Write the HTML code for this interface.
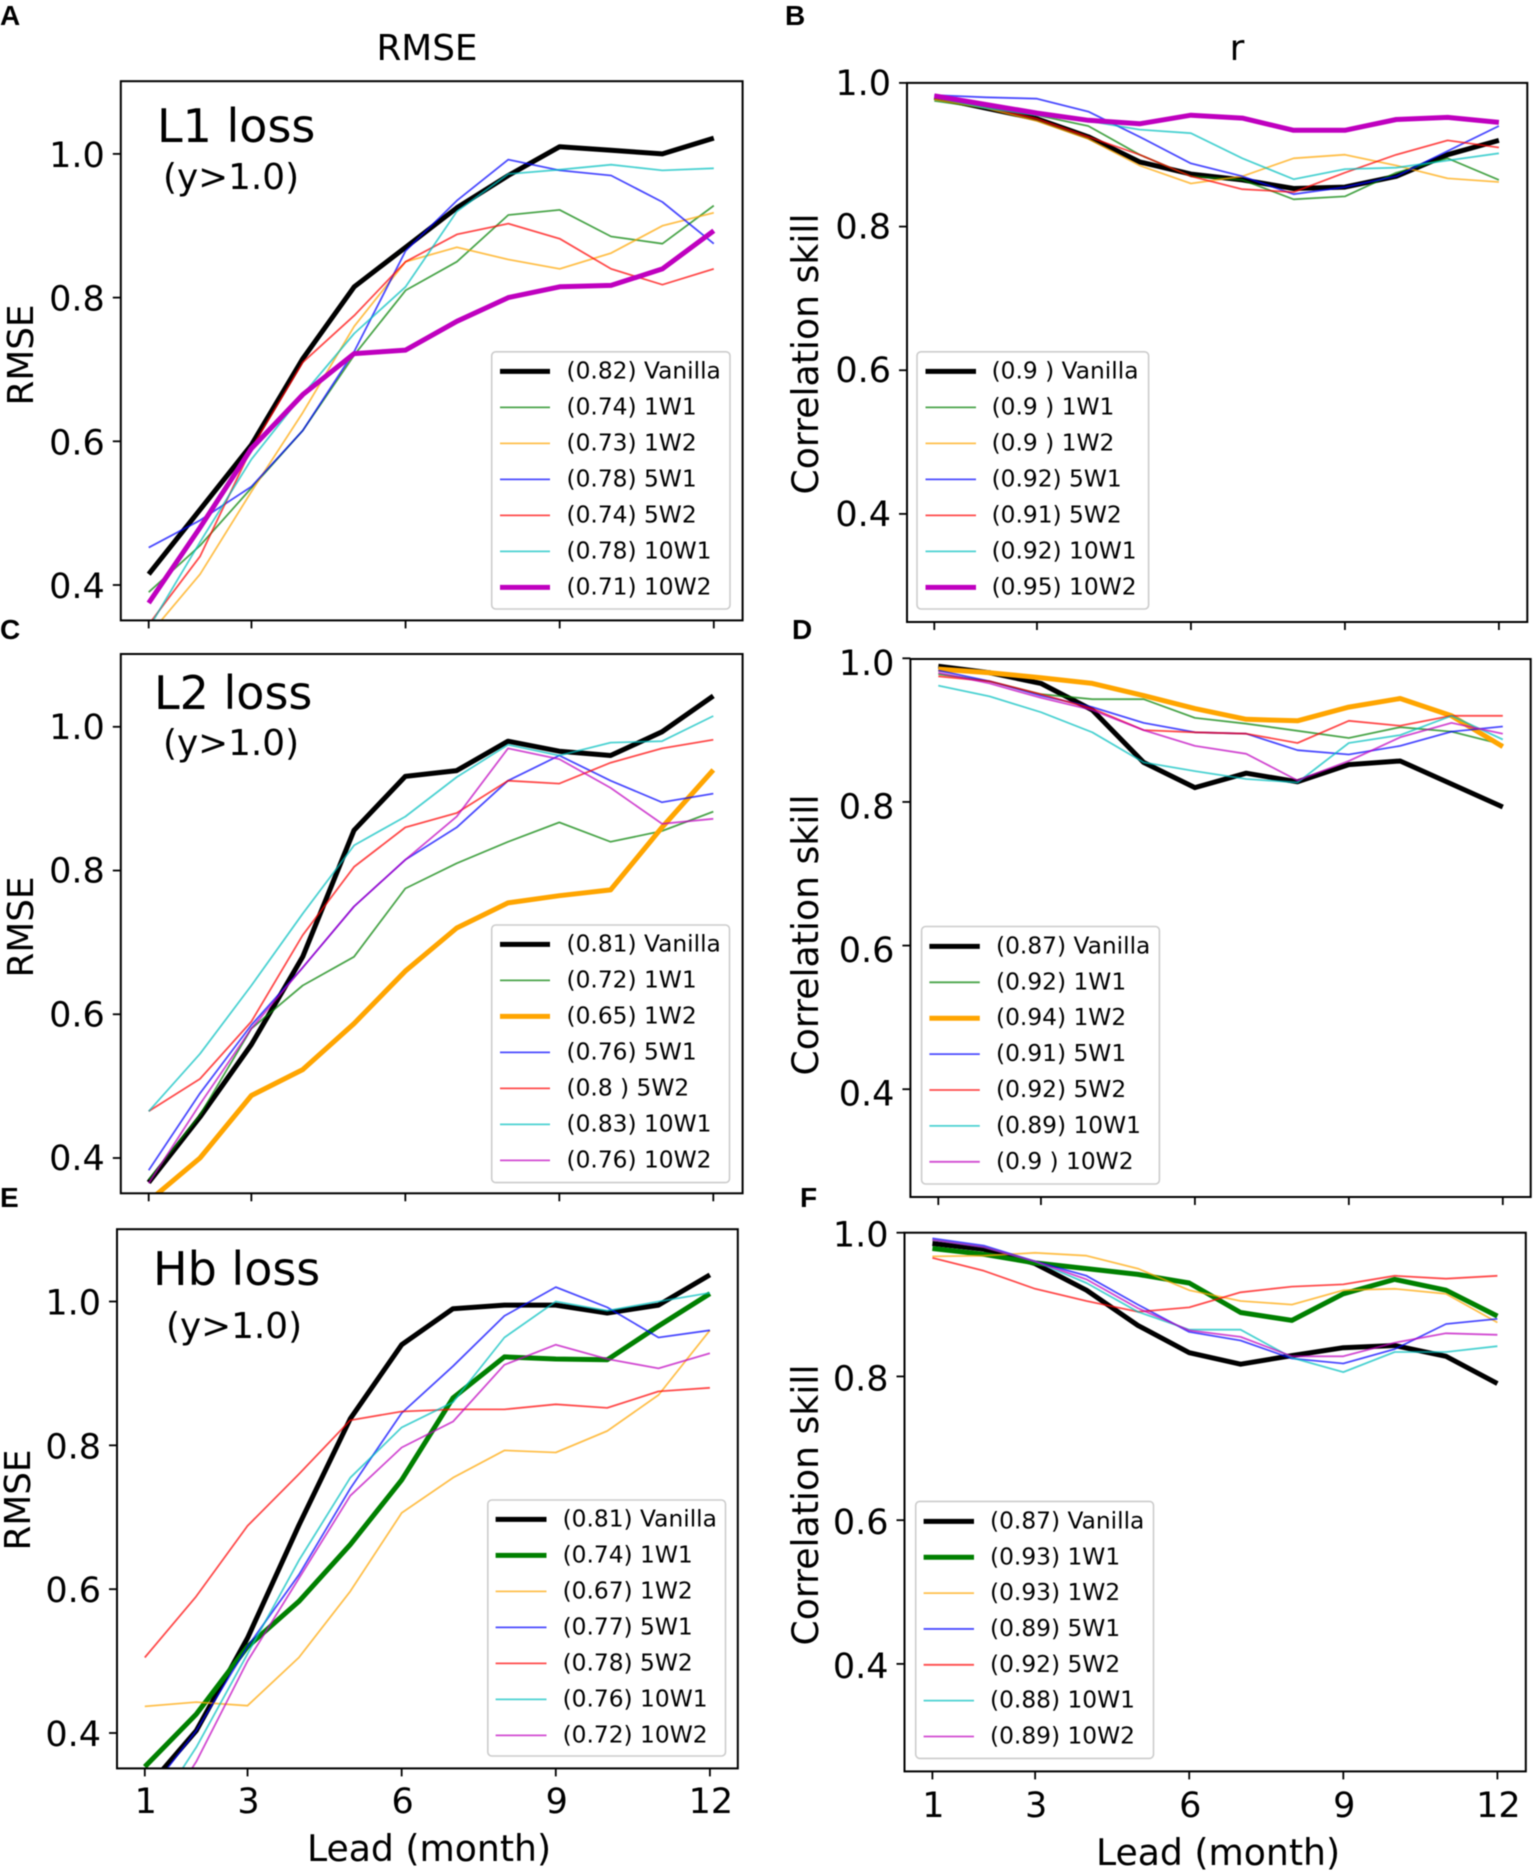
<!DOCTYPE html>
<html lang="en">
<head>
<meta charset="utf-8">
<title>RMSE and correlation skill by lead month</title>
<style>
html,body{margin:0;padding:0;background:#fff;}
#figure{display:block;width:1536px;height:1873px;filter:blur(0.5px);}
text{font-family:"DejaVu Sans","Liberation Sans",sans-serif;fill:#000;}
.letter{font-family:"Liberation Sans",sans-serif;font-weight:bold;font-size:28px;}
.coltitle{font-size:35.8px;text-anchor:middle;}
.ann{font-size:46px;}
.sub{font-size:35.8px;}
.ylab{font-size:35.8px;text-anchor:middle;}
.ylab2{font-size:36.2px;text-anchor:middle;}
.xlab{font-size:36.2px;text-anchor:middle;}
.tick{font-size:35px;}
.leg{font-size:23.3px;}
</style>
</head>
<body>
<svg id="figure" xmlns="http://www.w3.org/2000/svg" width="1536" height="1873" viewBox="0 0 1536 1873">
  <rect width="1536" height="1873" fill="#fff"/>
  <text class="letter" x="0" y="25">A</text>
  <text class="letter" x="785" y="25">B</text>
  <text class="letter" x="0" y="639">C</text>
  <text class="letter" x="792" y="639">D</text>
  <text class="letter" x="0" y="1207">E</text>
  <text class="letter" x="800" y="1207">F</text>
  <text class="coltitle" x="427" y="60">RMSE</text>
  <text class="coltitle" x="1237" y="60">r</text>
  <g id="panels"></g>
  <text class="ann" x="157" y="142">L1 loss</text>
  <text class="sub" x="163" y="189">(y&gt;1.0)</text>
  <text class="ann" x="154" y="709">L2 loss</text>
  <text class="sub" x="163" y="755">(y&gt;1.0)</text>
  <text class="ann" x="153" y="1285">Hb loss</text>
  <text class="sub" x="166" y="1338">(y&gt;1.0)</text>
  <text class="ylab" transform="translate(33,355) rotate(-90)">RMSE</text>
  <text class="ylab" transform="translate(33,927) rotate(-90)">RMSE</text>
  <text class="ylab" transform="translate(30,1500) rotate(-90)">RMSE</text>
  <text class="ylab2" transform="translate(818,354) rotate(-90)">Correlation skill</text>
  <text class="ylab2" transform="translate(818,935) rotate(-90)">Correlation skill</text>
  <text class="ylab2" transform="translate(818,1505) rotate(-90)">Correlation skill</text>
  <text class="xlab" x="429" y="1861">Lead (month)</text>
  <text class="xlab" x="1218" y="1865">Lead (month)</text>
</svg>
<script>
const leadMonths = [1,2,3,4,5,6,7,8,9,10,11,12];
const xTickValues = [1,3,6,9,12];
const yTickValues = [1.0,0.8,0.6,0.4];
const seriesNames = ["Vanilla","1W1","1W2","5W1","5W2","10W1","10W2"];
const seriesColors = ["#000000","#008000","#ffa500","#0000ff","#ff0000","#00bfbf","#bf00bf"];

// Panel A: L1 loss RMSE
const a_vanilla = [.415,.505,.595,.715,.815,.87,.925,.97,1.01,1.005,1.0,1.022];
const a_1w1 = [.39,.455,.535,.615,.72,.81,.85,.915,.922,.885,.875,.928];
const a_1w2 = [.33,.415,.53,.64,.76,.85,.87,.853,.84,.862,.9,.918];
const a_5w1 = [.452,.49,.537,.615,.725,.865,.935,.992,.977,.97,.933,.875];
const a_5w2 = [.345,.44,.59,.71,.775,.85,.888,.903,.882,.84,.818,.84];
const a_10w1 = [.34,.46,.575,.665,.75,.815,.92,.972,.978,.985,.977,.98];
const a_10w2 = [.375,.48,.59,.665,.722,.727,.767,.8,.815,.817,.84,.893];
const a_scores = ["0.82","0.74","0.73","0.78","0.74","0.78","0.71"];

// Panel B: L1 loss correlation
const b_vanilla = [.98,.965,.95,.925,.89,.873,.865,.853,.855,.87,.9,.92];
const b_1w1 = [.975,.965,.955,.94,.9,.87,.865,.838,.842,.875,.895,.865];
const b_1w2 = [.977,.965,.947,.922,.885,.86,.87,.895,.9,.885,.867,.862];
const b_5w1 = [.983,.98,.978,.96,.925,.888,.87,.845,.855,.87,.905,.94];
const b_5w2 = [.98,.967,.95,.925,.9,.87,.852,.848,.875,.9,.92,.91];
const b_10w1 = [.98,.965,.955,.947,.935,.93,.895,.866,.88,.882,.892,.902];
const b_10w2 = [.982,.97,.958,.948,.943,.955,.951,.934,.934,.949,.952,.945];
const b_scores = ["0.9 ","0.9 ","0.9 ","0.92","0.91","0.92","0.95"];

// Panel C: L2 loss RMSE
const c_vanilla = [.366,.457,.558,.68,.856,.931,.939,.98,.966,.96,.993,1.043];
const c_1w1 = [.37,.46,.58,.64,.68,.775,.81,.84,.867,.84,.855,.882];
const c_1w2 = [.34,.4,.487,.523,.587,.66,.72,.755,.765,.773,.86,.94];
const c_5w1 = [.383,.49,.585,.665,.75,.815,.86,.925,.96,.925,.895,.907];
const c_5w2 = [.465,.51,.59,.71,.805,.86,.88,.925,.921,.95,.97,.982];
const c_10w1 = [.465,.545,.64,.74,.835,.875,.93,.975,.96,.978,.98,1.015];
const c_10w2 = [.365,.475,.58,.665,.75,.815,.875,.97,.955,.915,.865,.872];
const c_scores = ["0.81","0.72","0.65","0.76","0.8 ","0.83","0.76"];

// Panel D: L2 loss correlation
const d_vanilla = [.989,.98,.965,.928,.855,.82,.84,.828,.852,.857,.825,.793];
const d_1w1 = [.978,.968,.95,.943,.943,.917,.909,.899,.889,.904,.898,.88];
const d_1w2 = [.985,.98,.973,.965,.948,.93,.915,.913,.932,.944,.92,.877];
const d_5w1 = [.983,.968,.948,.932,.91,.897,.895,.872,.866,.878,.898,.905];
const d_5w2 = [.975,.968,.95,.93,.9,.897,.895,.882,.913,.906,.92,.92];
const d_10w1 = [.962,.947,.925,.897,.855,.843,.832,.827,.882,.893,.92,.887];
const d_10w2 = [.98,.965,.945,.928,.9,.878,.867,.83,.857,.89,.91,.895];
const d_scores = ["0.87","0.92","0.94","0.91","0.92","0.89","0.9 "];

// Panel E: Hb loss RMSE
const e_vanilla = [.32,.403,.532,.689,.837,.94,.99,.995,.995,.984,.995,1.037];
const e_1w1 = [.353,.426,.52,.583,.662,.752,.866,.923,.92,.919,.966,1.011];
const e_1w2 = [.437,.443,.438,.505,.597,.706,.755,.793,.79,.82,.87,.96];
const e_5w1 = [.31,.403,.52,.62,.74,.845,.91,.98,1.02,.992,.95,.96];
const e_5w2 = [.505,.59,.688,.76,.835,.847,.85,.85,.857,.852,.875,.88];
const e_10w1 = [.27,.38,.51,.64,.755,.825,.86,.95,1.0,.987,1.0,1.012];
const e_10w2 = [.25,.36,.5,.615,.73,.797,.833,.912,.94,.92,.907,.928];
const e_scores = ["0.81","0.74","0.67","0.77","0.78","0.76","0.72"];

// Panel F: Hb loss correlation
const f_vanilla = [.985,.977,.957,.92,.871,.833,.817,.829,.84,.843,.828,.79];
const f_1w1 = [.978,.97,.958,.95,.942,.93,.889,.878,.915,.935,.92,.884];
const f_1w2 = [.967,.968,.972,.968,.95,.92,.905,.9,.92,.922,.915,.875];
const f_5w1 = [.992,.982,.96,.94,.9,.862,.85,.825,.818,.838,.873,.88];
const f_5w2 = [.965,.947,.922,.905,.89,.896,.917,.925,.928,.94,.936,.94];
const f_10w1 = [.99,.98,.96,.93,.89,.865,.865,.826,.806,.834,.834,.842];
const f_10w2 = [.99,.98,.96,.935,.895,.864,.855,.828,.828,.847,.86,.858];
const f_scores = ["0.87","0.93","0.93","0.89","0.92","0.88","0.89"];

const panels = [
  {id:"a", series:[a_vanilla,a_1w1,a_1w2,a_5w1,a_5w2,a_10w1,a_10w2], scores:a_scores, bold:[0,6], tickShift:13,
   box:[120.8,742.6,81.2,620.4], xr:[148.7,713.8], yr:[153.9,585], lg:[491.7,730,351.8,609,500,550,566.5,370.4,36], xl:false},
  {id:"b", series:[b_vanilla,b_1w1,b_1w2,b_5w1,b_5w2,b_10w1,b_10w2], scores:b_scores, bold:[0,6], tickShift:12,
   box:[907,1527.3,82.9,622], xr:[934.3,1498.9], yr:[82.9,513.9], lg:[917,1148.6,351.8,609,925.5,976,991.6,370.4,36], xl:false},
  {id:"c", series:[c_vanilla,c_1w1,c_1w2,c_5w1,c_5w2,c_10w1,c_10w2], scores:c_scores, bold:[0,2], tickShift:12,
   box:[120.8,742.6,654,1193.3], xr:[148.7,713.3], yr:[726.8,1158], lg:[491.7,729.5,925,1182.6,500,550,566.5,943.4,36], xl:false},
  {id:"d", series:[d_vanilla,d_1w1,d_1w2,d_5w1,d_5w2,d_10w1,d_10w2], scores:d_scores, bold:[0,2], tickShift:16.5,
   box:[910.4,1530.7,659,1197], xr:[938.3,1502.8], yr:[658.3,1089.2], lg:[921.6,1159.4,926.5,1184,929.4,979.8,996,945.4,35.9], xl:false},
  {id:"e", series:[e_vanilla,e_1w1,e_1w2,e_5w1,e_5w2,e_10w1,e_10w2], scores:e_scores, bold:[0,1], tickShift:13,
   box:[117,737.8,1229.2,1768.4], xr:[144.8,709.9], yr:[1301.5,1733], lg:[487.8,725.5,1500,1756,495.6,546.5,562.6,1518.4,36], xl:1813},
  {id:"f", series:[f_vanilla,f_1w1,f_1w2,f_5w1,f_5w2,f_10w1,f_10w2], scores:f_scores, bold:[0,1], tickShift:14,
   box:[904.5,1525.8,1232.7,1771.4], xr:[932.4,1497.4], yr:[1232.7,1663.9], lg:[915.7,1153.5,1501.4,1758.4,923.6,974,990,1520.4,35.85], xl:1817}
];

const SVGNS = "http://www.w3.org/2000/svg";
const root = document.getElementById("panels");
function mk(tag, attrs, parent){
  const el = document.createElementNS(SVGNS, tag);
  for (const k in attrs) el.setAttribute(k, attrs[k]);
  parent.appendChild(el);
  return el;
}
function slug(s){ return s.toLowerCase(); }

panels.forEach(function(p){
  const [L,R,T,B] = p.box;
  const xScale = function(m){ return p.xr[0] + (m - 1) * (p.xr[1] - p.xr[0]) / 11; };
  const yScale = function(v){ return p.yr[0] + (1 - v) * (p.yr[1] - p.yr[0]) / 0.6; };

  const g = mk("g", {}, root);
  
  

  const defs = mk("defs", {}, g);
  const clip = mk("clipPath", {id:"clip-" + p.id}, defs);
  mk("rect", {x:L, y:T, width:R - L, height:B - T}, clip);

  const plot = mk("g", {"clip-path":"url(#clip-" + p.id + ")"}, g);
  
  

  p.series.forEach(function(vals, i){
    const thick = p.bold.indexOf(i) >= 0;
    const pts = vals.map(function(v, j){ return xScale(leadMonths[j]).toFixed(1) + "," + yScale(v).toFixed(1); }).join(" ");
    const line = mk("polyline", {points:pts, fill:"none", stroke:seriesColors[i],
      "stroke-width":thick ? 5 : 1.8, "stroke-opacity":thick ? 1 : 0.7,
      "stroke-linejoin":"round"}, plot);
    
    
  });

  const frame = mk("rect", {x:L, y:T, width:R - L, height:B - T, fill:"none", stroke:"#000", "stroke-width":2}, g);
  
  

  xTickValues.forEach(function(m){
    const tx = xScale(m);
    const t = mk("line", {x1:tx, x2:tx, y1:B, y2:B + 8, stroke:"#000", "stroke-width":1.8}, g);
    
    
    if (p.xl) {
      const lbl = mk("text", {x:tx + 1, y:p.xl, "text-anchor":"middle", class:"tick"}, g);
      lbl.textContent = String(m);
      
      
    }
  });

  yTickValues.forEach(function(v){
    const ty = yScale(v);
    const t = mk("line", {x1:L - 8, x2:L, y1:ty, y2:ty, stroke:"#000", "stroke-width":1.8}, g);
    
    
    const lbl = mk("text", {x:L - 16, y:ty + p.tickShift, "text-anchor":"end", class:"tick"}, g);
    lbl.textContent = v.toFixed(1);
    
    
  });

  const [lgL,lgR,lgT,lgB,lnA,lnB,txX,rowY,rowStep] = p.lg;
  const legend = mk("g", {}, g);
  
  
  const lgBox = mk("rect", {x:lgL, y:lgT, width:lgR - lgL, height:lgB - lgT, rx:4, fill:"#fff", "fill-opacity":0.8, stroke:"#ccc", "stroke-width":1.6}, legend);
  
  
  seriesNames.forEach(function(name, i){
    const thick = p.bold.indexOf(i) >= 0;
    const ry = rowY + i * rowStep;
    const swatch = mk("line", {x1:lnA, x2:lnB, y1:ry + 1, y2:ry + 1, stroke:seriesColors[i],
      "stroke-width":thick ? 5 : 1.8, "stroke-opacity":thick ? 1 : 0.7}, legend);
    
    
    const lbl = mk("text", {x:txX, y:ry + 8, class:"leg", "xml:space":"preserve", style:"white-space:pre"}, legend);
    lbl.textContent = "(" + p.scores[i] + ") " + name;
    
    
  });
});
</script>
</body>
</html>
